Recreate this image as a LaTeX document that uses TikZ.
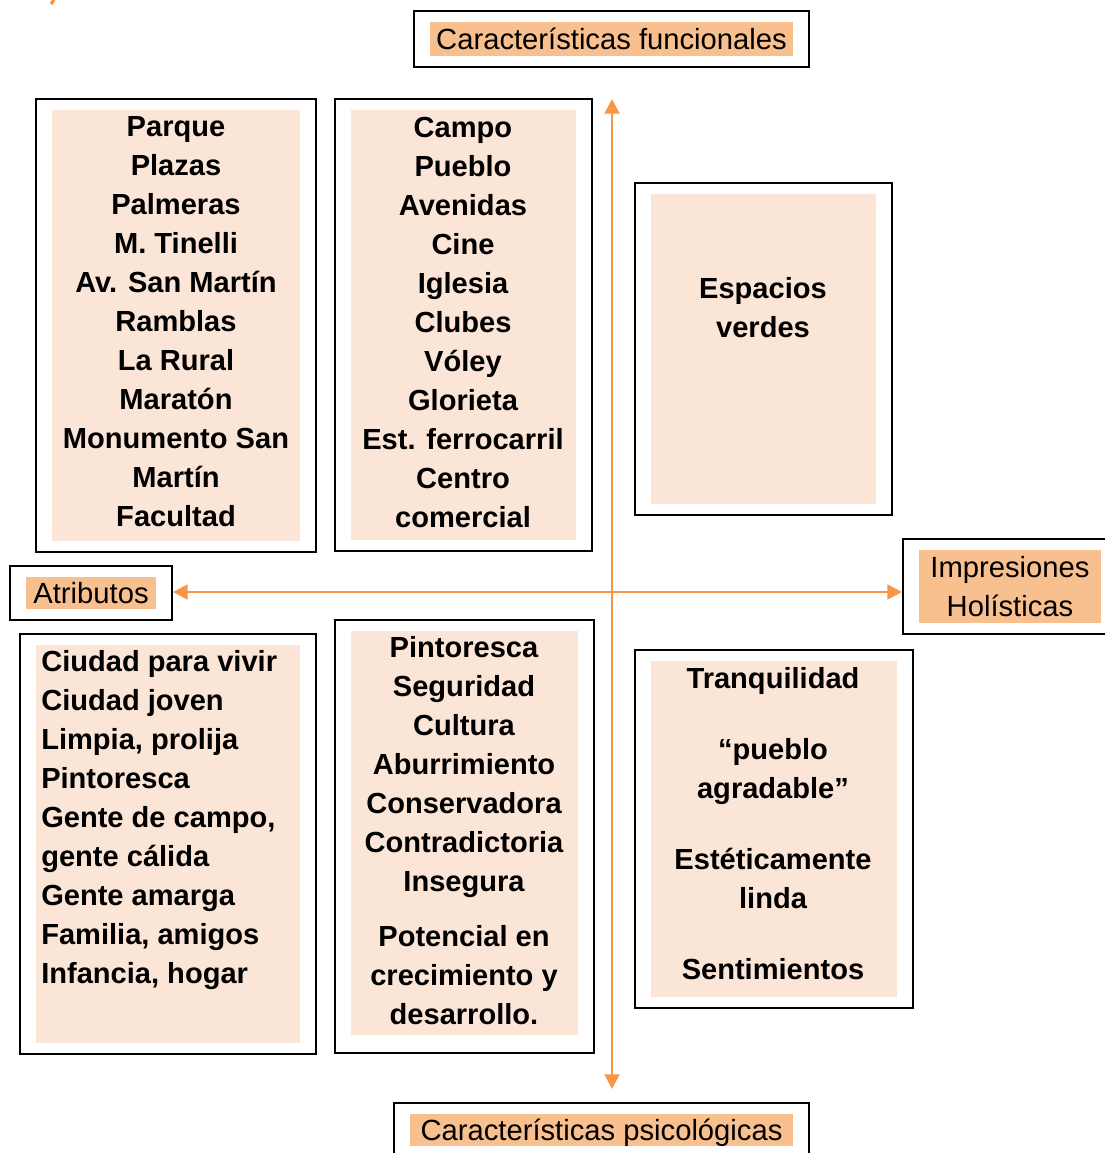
\documentclass[tikz,border=0pt]{standalone}
\usepackage{fontspec}
\setmainfont{Liberation Sans}
\usetikzlibrary{arrows.meta,fit}
\definecolor{cellfill}{HTML}{FBE5D6}
\definecolor{tagorange}{HTML}{F8BF8F}
\definecolor{axisorange}{HTML}{F79646}

\tikzset{
  frame/.style={draw=black, line width=1.2pt, inner xsep=12pt, inner ysep=8.25pt},
  cell/.style={fill=cellfill, inner sep=0pt},
  celltext/.style={font=\bfseries\fontsize{21.8}{29.25}\selectfont, align=center, inner sep=0pt},
  tag/.style={fill=tagorange, inner sep=0pt, align=center, font=\fontsize{21.9}{29.25}\selectfont},
  axis/.style={draw=axisorange, line width=2.2pt}
}

\begin{document}
\begin{tikzpicture}[x=0.75pt, y=-0.75pt] % 1 unit = 1 px of the page
\useasboundingbox (0,0) rectangle (1104,1153);

% labels on the four ends of the axes
\node[tag, minimum width=272.25pt, minimum height=25.5pt] (funcfill) at (611.5,39) {Características funcionales};
\node[frame, fit=(funcfill)] (func) {};
\node[tag, minimum width=97.5pt, minimum height=24pt] (atribfill) at (91,593) {Atributos};
\node[frame, fit=(atribfill)] (atrib) {};
\node[tag, minimum width=136.5pt, minimum height=54.75pt] (imprfill) at (1010,586.5) {Impresiones\\Holísticas};
\node[frame, fit=(imprfill)] (impr) {};
\node[tag, text depth=0pt, minimum width=287.25pt, minimum height=24pt] (psicofill) at (601.5,1130) {Características psicológicas};
\node[frame, fit=(psicofill)] (psico) {};

% upper left
\node[cell, minimum width=186pt, minimum height=323.25pt] (parquefill) at (176,325.5) {};
\node[frame, fit=(parquefill)] (parque) {};
\node[celltext] (parquetext) at (176,322) {Parque\\Plazas\\Palmeras\\M. Tinelli\\Av. San Martín\\Ramblas\\La Rural\\Maratón\\Monumento San\\Martín\\Facultad};

% upper middle
\node[cell, minimum width=168.75pt, minimum height=322.5pt] (campofill) at (463.5,325) {};
\node[frame, fit=(campofill)] (campo) {};
\node[celltext] (campotext) at (463,322) {Campo\\Pueblo\\Avenidas\\Cine\\Iglesia\\Clubes\\Vóley\\Glorieta\\Est. ferrocarril\\Centro\\comercial};

% upper right
\node[cell, minimum width=168.75pt, minimum height=232.5pt] (verdesfill) at (763.5,349) {};
\node[frame, fit=(verdesfill)] (verdes) {};
\node[celltext] (verdestext) at (763,308) {Espacios\\verdes};

% lower left
\node[cell, minimum width=198pt, minimum height=298.5pt] (ciudadfill) at (168,844) {};
\node[frame, fit=(ciudadfill)] (ciudad) {};
\node[celltext, align=left, anchor=west] (ciudadtext) at (41,820.5) {Ciudad para vivir\\Ciudad joven\\Limpia, prolija\\Pintoresca\\Gente de campo,\\gente cálida\\Gente amarga\\Familia, amigos\\Infancia, hogar};

% lower middle
\node[cell, minimum width=170.25pt, minimum height=303pt] (pintorfill) at (464.5,833) {};
\coordinate (pintorlow) at (464.5,1042);
\node[frame, fit=(pintorfill)(pintorlow)] (pintor) {};
\node[celltext] (pintortext) at (464,831) {Pintoresca\\Seguridad\\Cultura\\Aburrimiento\\Conservadora\\Contradictoria\\Insegura\\[12pt]Potencial en\\crecimiento y\\desarrollo.};

% lower right
\node[cell, minimum width=184.5pt, minimum height=252pt] (tranqfill) at (774,829) {};
\node[frame, fit=(tranqfill)] (tranq) {};
\node[celltext] (tranqtext) at (773,823.5) {Tranquilidad\\[24pt]“pueblo\\agradable”\\[24pt]Estéticamente\\linda\\[24pt]Sentimientos};

% axes
\coordinate (vtop) at (612,99);
\coordinate (vbot) at (612,1089);
\coordinate (hmid) at (612,592);
\draw[axis, {Triangle[length=11pt,width=11pt]}-{Triangle[length=11pt,width=11pt]}] (vtop) -- (vbot);
\draw[axis, {Triangle[length=11pt,width=11pt]}-{Triangle[length=11pt,width=11pt]}] (atrib.east |- hmid) -- (impr.west |- hmid);

% bit of a stroke cut by the top edge
\draw[axisorange, line width=2.5pt] (54,0) -- (51,4);
\end{tikzpicture}
\end{document}
